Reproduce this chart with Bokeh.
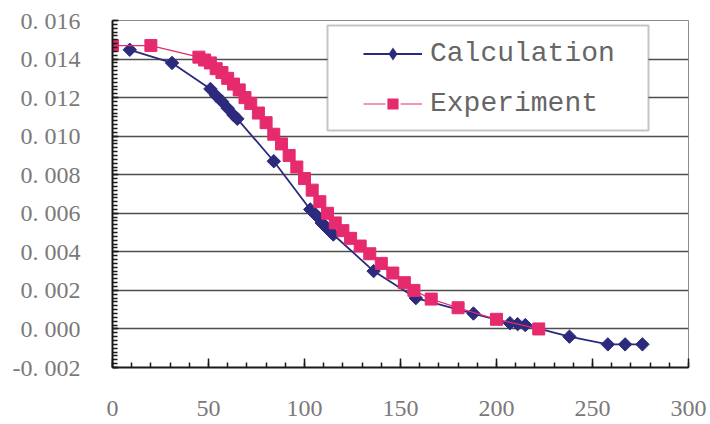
import numpy as np
from bokeh.plotting import figure
from bokeh.models import (Range1d, FixedTicker, Legend, LegendItem, BoxAnnotation)
from bokeh.embed import file_html
from bokeh.resources import INLINE

# Calculated values
calc_x = [9, 31, 51, 54, 57, 60, 63, 65, 84, 103, 105, 107, 109, 111, 113, 115,
          136, 158, 188, 207, 211, 215, 238, 258, 267, 276]
calc_y = [0.01448, 0.0138, 0.01245, 0.0121, 0.0118, 0.01145, 0.0111, 0.0109, 0.0087,
          0.0062, 0.0060, 0.0058, 0.0055, 0.0053, 0.0051, 0.0049,
          0.0030, 0.0016, 0.0008, 0.0003, 0.00025, 0.0002, -0.0004, -0.0008, -0.0008, -0.0008]

# Measured values
exp_x = [0, 20, 45, 48, 51, 54, 57, 60, 63, 66, 69, 72, 76, 80, 84, 88, 92, 96, 100,
         104, 108, 112, 116, 120, 124, 129, 134, 140, 146, 152, 157, 166, 180, 200, 222]
exp_y = [0.0147, 0.0147, 0.0141, 0.01395, 0.0138, 0.0135, 0.0133, 0.0130, 0.0127,
         0.0124, 0.0120, 0.0117, 0.0112, 0.0107, 0.0101, 0.0096, 0.0090, 0.0084, 0.0078,
         0.0072, 0.0066, 0.0060, 0.0055, 0.0051, 0.0047, 0.0043, 0.0039, 0.0034, 0.0029,
         0.0024, 0.0020, 0.00155, 0.0011, 0.0005, 0.0000]

x_ticks = [0, 50, 100, 150, 200, 250, 300]
x_tick_labels = ["0", "50", "100", "150", "200", "250", "300"]
y_ticks = [-0.002, 0.0, 0.002, 0.004, 0.006, 0.008, 0.010, 0.012, 0.014, 0.016]
y_tick_labels = ["-0. 002", "0. 000", "0. 002", "0. 004", "0. 006", "0. 008",
                 "0. 010", "0. 012", "0. 014", "0. 016"]

NAVY = "#2c2a7c"
PINK = "#e62a6e"

p = figure(width=710, height=424, output_backend="svg", toolbar_location=None,
           x_range=Range1d(0, 300), y_range=Range1d(-0.002, 0.016),
           min_border_left=112, min_border_right=22, min_border_top=20,
           min_border_bottom=57, background_fill_color="white",
           border_fill_color="white")
p.outline_line_color = "#8c8c8c"
p.outline_line_width = 1

# ticks and labels
p.xaxis.ticker = FixedTicker(ticks=x_ticks, minor_ticks=list(np.arange(0, 301, 10)))
p.yaxis.ticker = FixedTicker(ticks=y_ticks,
                             minor_ticks=list(np.round(np.arange(-0.002, 0.01601, 0.0002), 5)))
p.xaxis.major_label_overrides = dict(zip(x_ticks, x_tick_labels))
p.yaxis.major_label_overrides = dict(zip(y_ticks, y_tick_labels))

for ax in (p.xaxis, p.yaxis):
    ax.axis_line_color = "#1a1a1a"
    ax.axis_line_width = 2
    ax.major_tick_line_color = "#1a1a1a"
    ax.minor_tick_line_color = "#1a1a1a"
    ax.major_tick_line_width = 1.5
    ax.minor_tick_line_width = 1.5
    ax.major_tick_out = 0
    ax.minor_tick_out = 0
    ax.major_label_text_font = "Liberation Serif"
    ax.major_label_text_font_size = "24px"
    ax.major_label_text_color = "#7a7a7a"

p.xaxis.major_tick_in = 9
p.xaxis.minor_tick_in = 5
p.yaxis.major_tick_in = 6
p.yaxis.minor_tick_in = 5
p.xaxis.major_label_standoff = 33
p.yaxis.major_label_standoff = 32

p.xgrid.grid_line_color = None
p.ygrid.grid_line_color = "#4e4e4e"
p.ygrid.grid_line_width = 1.6

# series
calc_line = p.line(calc_x, calc_y, line_color=NAVY, line_width=1.8)
calc_pts = p.scatter(calc_x, calc_y, marker="square", angle=np.pi / 4, size=9.5,
                     fill_color=NAVY, line_color=NAVY)
exp_line = p.line(exp_x, exp_y, line_color=PINK, line_width=1.2)
exp_pts = p.scatter(exp_x, exp_y, marker="square", size=12,
                    fill_color=PINK, line_color=PINK)

# zero-size markers: invisible in the plot, they give the legend its keys
calc_key = p.scatter(calc_x, calc_y, marker="diamond", size=0,
                     fill_color=NAVY, line_color=None)
exp_key = p.scatter(exp_x, exp_y, marker="square", size=0,
                    fill_color=PINK, line_color="white", line_width=2)

# legend frame
box = BoxAnnotation(left=215, right=536, top=342, bottom=237,
                    left_units="screen", right_units="screen",
                    top_units="screen", bottom_units="screen",
                    fill_color="white", fill_alpha=1.0,
                    line_color="#3c3c3c", line_width=2)
p.add_layout(box)

legend = Legend(items=[LegendItem(label="Calculation", renderers=[calc_line, calc_key]),
                       LegendItem(label="Experiment", renderers=[exp_line, exp_key])],
                location=(251, 244), padding=0, margin=0, spacing=10,
                glyph_width=59, glyph_height=33, label_height=40,
                label_standoff=8,
                label_text_font="Liberation Mono", label_text_font_size="28px",
                label_text_color="#666666",
                background_fill_alpha=0, border_line_alpha=0)
p.add_layout(legend)

open("out.html", "w").write(file_html(p, INLINE))
